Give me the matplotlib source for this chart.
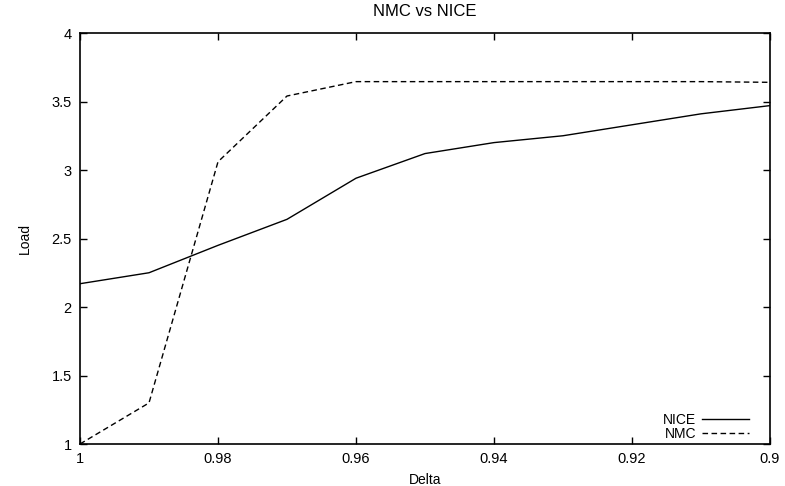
import matplotlib
matplotlib.use("Agg")
import matplotlib.pyplot as plt

# Load versus delta for the two schemes
delta = [1.00, 0.99, 0.98, 0.97, 0.96, 0.95, 0.94, 0.93, 0.92, 0.91, 0.90]
nice_load = [2.17, 2.25, 2.45, 2.64, 2.94, 3.12, 3.20, 3.25, 3.33, 3.41, 3.47]
nmc_load = [1.00, 1.30, 3.06, 3.54, 3.645, 3.645, 3.645, 3.645, 3.645, 3.645, 3.64]

x_ticks = [1.0, 0.98, 0.96, 0.94, 0.92, 0.90]
x_labels = ["1", "0.98", "0.96", "0.94", "0.92", "0.9"]
y_ticks = [1, 1.5, 2, 2.5, 3, 3.5, 4]
y_labels = ["1", "1.5", "2", "2.5", "3", "3.5", "4"]

plt.rcParams['font.family'] = ['Liberation Sans', 'DejaVu Sans']
plt.rcParams['font.size'] = 10

fig = plt.figure(figsize=(7.85, 4.86), dpi=100)
ax = fig.add_axes([80 / 785, 42 / 486, 690 / 785, 411 / 486])

ax.plot(delta, nice_load, color='black', linewidth=1.0, label='NICE')
ax.plot(delta, nmc_load, color='black', linewidth=1.0, linestyle=(0, (4, 2.5)), label='NMC')

ax.set_xlim(1.0, 0.9)
ax.set_ylim(1, 4)
ax.set_xticks(x_ticks)
ax.set_xticklabels(x_labels)
ax.set_yticks(y_ticks)
ax.set_yticklabels(y_labels)
ax.tick_params(direction='in', length=5, width=1, top=True, right=True, pad=6,
               labelsize=10.5)
for spine in ax.spines.values():
    spine.set_linewidth(1.2)

ax.set_title("NMC vs NICE", pad=12)
ax.set_xlabel("Delta", labelpad=5)
ax.set_ylabel("Load", labelpad=14)

ax.legend(loc='lower right', bbox_to_anchor=(0.982, -0.012), frameon=False,
          markerfirst=False, handlelength=3.4, handletextpad=0.4,
          labelspacing=0.0, borderaxespad=0.3, borderpad=0.3)

fig.savefig("out.png", dpi=100)
